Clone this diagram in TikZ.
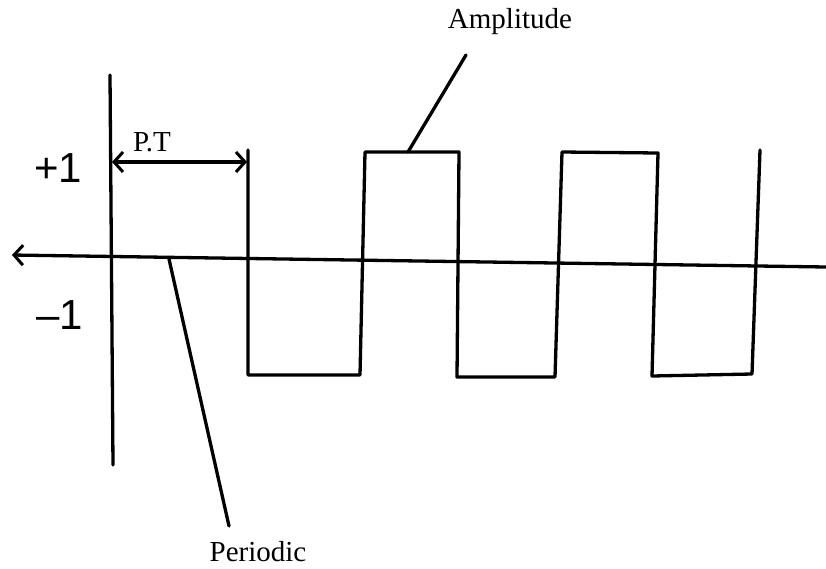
\documentclass[tikz,border=0pt]{standalone}
\usepackage{fontspec}
\setmainfont{Liberation Serif}
\newfontfamily\handfont{Liberation Sans}
\usetikzlibrary{arrows.meta}
\tikzset{
  ink/.style={line width=3.3pt, line cap=round, line join=round},
  openarrow/.style={-{Straight Barb[length=9pt,width=20pt,line width=3pt]}},
  lbl/.style={font=\fontsize{29}{32}\selectfont, inner sep=0pt},
  hand/.style={font=\handfont\fontsize{42}{46}\selectfont, inner sep=0pt}
}
\begin{document}
\begin{tikzpicture}[x=1pt,y=-1pt]
\useasboundingbox (0,0) rectangle (826,568);
% axes
\coordinate (vtop) at (110,75);
\coordinate (vbot) at (113,465);
\coordinate (hleft) at (12,255);
\coordinate (hright) at (826,267);
\draw[ink] (vtop) -- (vbot);
\draw[ink, openarrow] (hright) -- (hleft);
% wave corners
\coordinate (w0) at (248,150);
\coordinate (w1) at (248,375);
\coordinate (w2) at (360,375);
\coordinate (w3) at (365,152);
\coordinate (w4) at (459,152);
\coordinate (w5) at (457,377);
\coordinate (w6) at (555,377);
\coordinate (w7) at (562,152);
\coordinate (w8) at (658,153);
\coordinate (w9) at (652,376);
\coordinate (w10) at (752,374);
\coordinate (w11) at (760,150);
\draw[ink] (w0) -- (w1) -- (w2) -- (w3) -- (w4) -- (w5) -- (w6) -- (w7) -- (w8) -- (w9) -- (w10) -- (w11);
% period arrow
\coordinate (ptl) at (112,162);
\coordinate (ptr) at (247,162);
\draw[ink, {Straight Barb[length=9pt,width=20pt,line width=3pt]}-{Straight Barb[length=9pt,width=20pt,line width=3pt]}] (ptl) -- (ptr);
\node[lbl] (pt) at (152,142) {P.T};
% labels
\node[lbl] (amp) at (510,22) {Amplitude};
\coordinate (ampend) at (408,152);
\draw[ink] (466,55) -- (ampend);
\node[lbl] (per) at (258,552) {Periodic};
\coordinate (perstart) at (169,259);
\draw[ink] (perstart) -- (229,526);
\node[hand] (plus) at (58,168) {+1};
\node[hand] (minus) at (60,315) {–1};
\end{tikzpicture}
\end{document}
